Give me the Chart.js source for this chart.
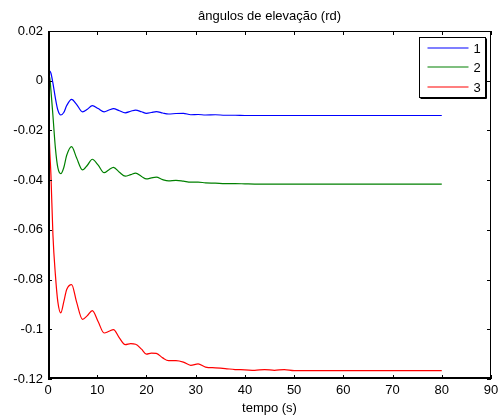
<!DOCTYPE html>
<html>
<head>
<meta charset="UTF-8">
<title>angulos de elevacao</title>
<script src="https://cdn.jsdelivr.net/npm/chart.js@4/dist/chart.umd.min.js"></script>
<style>
	body{ margin:0; background:#fff; }
	canvas{ display:block; }
</style>
</head>
<body>
<canvas id="id_chart" width="503" height="417"></canvas>
<script>
// valores (tempo em s, angulos em rd)
var tempo  = [0, 0.3, 0.6, 1.0, 1.5, 2.0, 2.6, 3.2, 3.8, 4.8, 5.8, 7.0, 8.0, 9.0, 10.2, 11.4, 12.4, 13.3, 14.5, 15.7, 16.8, 17.8, 19, 20, 21, 22, 23.3, 24.5, 26, 27.5, 29, 30.5, 32, 34, 36, 38, 40, 42, 44, 46, 48, 50, 60, 70, 80];
var serie1 = [0.003, 0.004, 0.003, -0.001, -0.007, -0.0118, -0.0138, -0.0128, -0.0100, -0.0075, -0.0095, -0.0125, -0.0115, -0.0100, -0.0112, -0.0125, -0.0118, -0.0112, -0.0121, -0.0129, -0.0123, -0.0118, -0.0125, -0.0131, -0.0128, -0.0124, -0.0130, -0.0134, -0.0132, -0.0131, -0.0137, -0.0136, -0.0138, -0.0137, -0.0139, -0.0139, -0.0140, -0.0140, -0.0140, -0.0140, -0.0140, -0.0140, -0.0140, -0.0140, -0.0140];
var serie2 = [0.002, 0.002, -0.004, -0.014, -0.027, -0.035, -0.0374, -0.0350, -0.0300, -0.0265, -0.0310, -0.0359, -0.0340, -0.0316, -0.0340, -0.0370, -0.0358, -0.0349, -0.0368, -0.0384, -0.0378, -0.0372, -0.0385, -0.0395, -0.0391, -0.0388, -0.0398, -0.0403, -0.0401, -0.0404, -0.0408, -0.0408, -0.0411, -0.0412, -0.0414, -0.0414, -0.0415, -0.0416, -0.0416, -0.0416, -0.0416, -0.0416, -0.0416, -0.0416, -0.0416];
var serie3 = [0.0, -0.025, -0.038, -0.062, -0.078, -0.089, -0.0934, -0.0890, -0.0840, -0.0820, -0.0890, -0.0960, -0.0945, -0.0925, -0.0970, -0.1015, -0.1008, -0.1001, -0.1035, -0.1062, -0.1058, -0.1060, -0.1080, -0.1100, -0.1096, -0.1097, -0.1115, -0.1126, -0.1126, -0.1132, -0.1145, -0.1139, -0.1152, -0.1155, -0.1158, -0.1162, -0.1163, -0.1165, -0.1162, -0.1165, -0.1162, -0.1166, -0.1166, -0.1166, -0.1166];
var nomes  = ["1", "2", "3"];
var cores  = ["#0000ff", "#008000", "#ff0000"];
var titulo = "ângulos de elevação (rd)";
var tituloX = "tempo (s)";

var FONTE = "'Liberation Sans', Arial, sans-serif";

var toPoints = function( xs, ys ){
	var list = [], i;
	for( i=0; i<xs.length; i++ ){
		list.push({ x : xs[i], y : ys[i] });
	}
	return list;
};

// caixa, ticks para dentro, titulo e legenda no estilo do matlab
var matlabPlugin = {
	id : "matlab",
	afterDraw : function( chart ){
		var ctx = chart.ctx, a = chart.chartArea;
		var sx = chart.scales.x, sy = chart.scales.y;
		var TL = 4, n, p;
		var L = Math.round(a.left), R = Math.round(a.right), T = Math.round(a.top), B = Math.round(a.bottom);

		ctx.save();
		ctx.strokeStyle = "#000";
		// topo e direita finos, esquerda e baixo mais grossos (como no png)
		ctx.lineWidth = 1;
		ctx.beginPath();
		ctx.moveTo( L, T + 0.5 ); ctx.lineTo( R, T + 0.5 );
		ctx.moveTo( R - 0.5, T ); ctx.lineTo( R - 0.5, B );
		ctx.stroke();
		ctx.lineWidth = 2;
		ctx.beginPath();
		ctx.moveTo( L + 1, T ); ctx.lineTo( L + 1, B );
		ctx.moveTo( L, B - 1 ); ctx.lineTo( R, B - 1 );
		ctx.stroke();

		ctx.lineWidth = 1;
		ctx.beginPath();
		for( n=0; n<sx.ticks.length; n++ ){
			p = Math.round( sx.getPixelForValue( sx.ticks[n].value ) ) + 0.5;
			ctx.moveTo( p, B ); ctx.lineTo( p, B - TL );
			ctx.moveTo( p, T ); ctx.lineTo( p, T + TL );
		}
		for( n=0; n<sy.ticks.length; n++ ){
			p = Math.round( sy.getPixelForValue( sy.ticks[n].value ) ) + 0.5;
			ctx.moveTo( L, p ); ctx.lineTo( L + TL, p );
			ctx.moveTo( R, p ); ctx.lineTo( R - TL, p );
		}
		ctx.stroke();

		// titulo centrado sobre a area do grafico
		ctx.fillStyle = "#000";
		ctx.font = "13px " + FONTE;
		ctx.textAlign = "center";
		ctx.textBaseline = "middle";
		ctx.fillText( titulo, (a.left + a.right) / 2, 16 );

		// legenda
		var bx = 419.5, by = 37.5, bw = 66, bh = 60;
		ctx.fillStyle = "#fff";
		ctx.fillRect( bx, by, bw, bh );
		ctx.strokeStyle = "#000";
		ctx.lineWidth = 1;
		ctx.strokeRect( bx, by, bw, bh );
		ctx.beginPath();
		ctx.moveTo( bx + bw + 1, by + 1 ); ctx.lineTo( bx + bw + 1, by + bh + 1 ); ctx.lineTo( bx + 1, by + bh + 1 );
		ctx.stroke();
		ctx.textAlign = "left";
		for( n=0; n<nomes.length; n++ ){
			var yy = Math.round( by + 10 + n * 19.5 );
			ctx.beginPath();
			ctx.strokeStyle = cores[n];
			ctx.lineWidth = 1.2;
			ctx.moveTo( bx + 8, yy ); ctx.lineTo( bx + 49, yy );
			ctx.stroke();
			ctx.fillStyle = "#000";
			ctx.fillText( nomes[n], bx + 54, yy + 1 );
		}
		ctx.restore();
	}
};

var datasets = [ serie1, serie2, serie3 ].map(function( s, i ){
	return {
		label : nomes[i],
		data : toPoints( tempo, s ),
		borderColor : cores[i],
		borderWidth : 1.2,
		pointRadius : 0,
		fill : false,
		cubicInterpolationMode : "monotone"
	};
});

var ctx = document.getElementById("id_chart").getContext("2d");
var myChart = new Chart(ctx, {
	type : "line",
	data : { datasets : datasets },
	plugins : [ matlabPlugin ],
	options : {
		responsive : false,
		animation : false,
		devicePixelRatio : 1,
		layout : { padding : { top : 31, right : 12, left : 0, bottom : 0 } },
		plugins : {
			legend : { display : false },
			tooltip : { enabled : false }
		},
		scales : {
			x : {
				type : "linear",
				min : 0, max : 90,
				grid : { display : false, drawTicks : false },
				border : { display : false },
				ticks : { stepSize : 10, padding : 4, color : "#000", font : { size : 13, family : FONTE } },
				title : { display : true, text : tituloX, color : "#000", padding : { top : 0, bottom : 1 }, font : { size : 13, family : FONTE } },
				afterFit : function( scale ){ scale.height = 38; }
			},
			y : {
				min : -0.12, max : 0.02,
				grid : { display : false, drawTicks : false },
				border : { display : false },
				ticks : {
					stepSize : 0.02, padding : 5, color : "#000",
					font : { size : 13, family : FONTE },
					callback : function( v ){
						var s = Number( v.toFixed(2) );
						return s === 0 ? "0" : String( s );
					}
				},
				afterFit : function( scale ){ scale.width = 48; }
			}
		}
	}
});
</script>
</body>
</html>
